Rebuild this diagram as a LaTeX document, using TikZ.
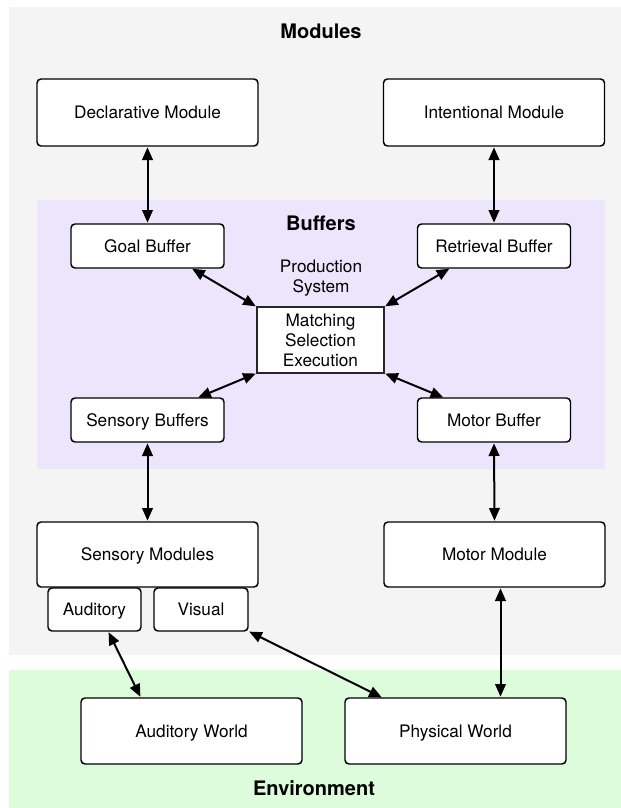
\documentclass[tikz,border=0pt]{standalone}
\usepackage{fontspec}
\setmainfont{TeX Gyre Heros}
\usetikzlibrary{arrows.meta}
\definecolor{bggray}{RGB}{244,244,244}
\definecolor{bglav}{RGB}{237,229,252}
\definecolor{bggreen}{RGB}{221,252,219}
\tikzset{
  basebox/.style={draw=black, line width=1.1pt, fill=white, rounded corners=3pt,
    inner sep=0pt, outer sep=0pt, font=\fontsize{12.9}{15}\selectfont},
  box/.style={basebox, text height=9.2pt, text depth=0pt},
  corebox/.style={basebox, align=center, rounded corners=0pt, draw=black!85},
  titletext/.style={font=\fontsize{15}{18}\selectfont\bfseries, inner sep=0pt},
  plaintext/.style={font=\fontsize{12.9}{15}\selectfont, align=center, inner sep=0pt},
  link/.style={line width=1.5pt,
    {Triangle[length=9.5pt,width=8pt]}-{Triangle[length=9.5pt,width=8pt]},
    shorten <=1pt, shorten >=1pt}
}
\begin{document}
\begin{tikzpicture}[x=0.75pt,y=-0.75pt]
\useasboundingbox (0,0) rectangle (621,808);
% backgrounds
\fill[bggray] (9,7) rectangle (621,655);
\fill[bglav] (37,200) rectangle (605,469);
\fill[bggreen] (9,670) rectangle (621,808);
% titles
\node[titletext] (tmod) at (321,31) {Modules};
\node[titletext] (tbuf) at (321,223) {Buffers};
\node[titletext] (tenv) at (314,788) {Environment};
\node[plaintext] (tprod) at (321,278) {Production\\System};
% modules
\node[box, minimum width=165.75pt, minimum height=50.25pt] (decl) at (147.5,112.5) {Declarative Module};
\node[box, minimum width=165.75pt, minimum height=50.25pt] (inten) at (494,112.5) {Intentional Module};
% buffers
\node[box, minimum width=114.75pt, minimum height=33pt] (goal) at (147.5,246) {Goal Buffer};
\node[box, minimum width=114.75pt, minimum height=33pt] (retr) at (494,246) {Retrieval Buffer};
\node[box, minimum width=114.75pt, minimum height=33pt] (sensb) at (147.5,420) {Sensory Buffers};
\node[box, minimum width=114.75pt, minimum height=33pt] (motb) at (494,420) {Motor Buffer};
\node[corebox, minimum width=95.25pt, minimum height=49.5pt] (core) at (320.5,340) {Matching\\Selection\\Execution};
% lower modules
\node[box, minimum width=165.75pt, minimum height=48.75pt] (sensm) at (147.5,554.5) {Sensory Modules};
\node[box, minimum width=165.75pt, minimum height=48.75pt] (motm) at (494.5,554.5) {Motor Module};
\node[box, minimum width=69.75pt, minimum height=32.25pt] (aud) at (94.5,609.5) {Auditory};
\node[box, minimum width=70.5pt, minimum height=32.25pt] (vis) at (201,609.5) {Visual};
% environment
\node[box, minimum width=165.75pt, minimum height=49.5pt] (audw) at (191.5,731) {Auditory World};
\node[box, minimum width=165.75pt, minimum height=49.5pt] (phys) at (455.5,731) {Physical World};
% connectors
\draw[link] (decl.south) -- (goal.north);
\draw[link] (inten.south) -- (retr.north);
\draw[link] ([xshift=-24.75pt]goal.south east) -- (core.north west);
\draw[link] ([xshift=24.75pt]retr.south west) -- (core.north east);
\draw[link] ([xshift=-20.25pt]sensb.north east) -- (core.south west);
\draw[link] ([xshift=20.25pt]motb.north west) -- (core.south east);
\draw[link] (sensb.south) -- (sensm.north);
\draw[link] (motb.south) -- (motm.north);
\draw[link] ([xshift=-24.75pt]aud.south east) -- ([xshift=45pt]audw.north west);
\draw[link] (vis.south east) -- ([xshift=28.5pt]phys.north west);
\coordinate (mx) at ([xshift=4.5pt]motm.south);
\draw[link] (mx) -- (mx |- phys.north);
\end{tikzpicture}
\end{document}
